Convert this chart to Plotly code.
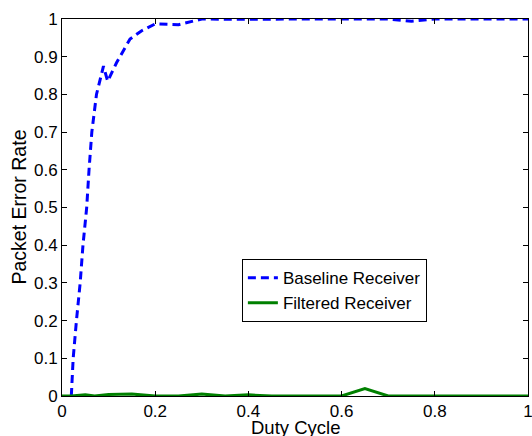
import plotly.graph_objects as go

duty_base = [0.02, 0.024, 0.031, 0.039, 0.045, 0.053, 0.058, 0.064, 0.074, 0.089, 0.098,
             0.117, 0.146, 0.171, 0.2, 0.25, 0.3, 0.4, 0.5, 0.6, 0.7, 0.75, 0.8, 0.9, 1.0]
per_base = [0.0, 0.1, 0.2, 0.3, 0.4, 0.5, 0.6, 0.7, 0.8, 0.875, 0.835,
            0.884, 0.947, 0.969, 0.987, 0.985, 1.0, 0.999, 1.0, 1.0, 1.0, 0.994, 1.0, 1.0, 1.0]

duty_filt = [0.0, 0.02, 0.05, 0.07, 0.1, 0.15, 0.2, 0.25, 0.3, 0.35, 0.4, 0.45, 0.5, 0.6, 0.65, 0.7, 0.8, 0.9, 1.0]
per_filt = [0.0, 0.0, 0.003, 0.0, 0.004, 0.005, 0.0, 0.0, 0.005, 0.0, 0.003, 0.0, 0.0, 0.0, 0.02, 0.0, 0.0, 0.0, 0.0]

x_ticks = [0, 0.2, 0.4, 0.6, 0.8, 1]
x_labels = ["0", "0.2", "0.4", "0.6", "0.8", "1"]
y_ticks = [i / 10 for i in range(11)]
y_labels = ["0", "0.1", "0.2", "0.3", "0.4", "0.5", "0.6", "0.7", "0.8", "0.9", "1"]
x_title = "Duty Cycle"
y_title = "Packet Error Rate"

FONT = "Liberation Sans, Arial"

fig = go.Figure()
fig.add_trace(go.Scatter(x=duty_base, y=per_base, mode="lines", name="Baseline Receiver",
                         line=dict(color="#0000ff", width=3, dash="8px,5px")))
fig.add_trace(go.Scatter(x=duty_filt, y=per_filt, mode="lines", name="Filtered Receiver",
                         line=dict(color="#008000", width=3)))

axis_common = dict(showline=True, linecolor="black", linewidth=1, mirror="ticks",
                   ticks="inside", ticklen=5, tickcolor="black", showgrid=False, zeroline=False,
                   ticklabeloverflow="allow", automargin=False,
                   tickfont=dict(family=FONT, size=17, color="black"))
fig.update_layout(
    width=532, height=436,
    margin=dict(l=62, r=4, t=19, b=40),
    plot_bgcolor="white", paper_bgcolor="white",
    xaxis=dict(range=[0, 1], tickvals=x_ticks, ticktext=x_labels, **axis_common),
    yaxis=dict(range=[0, 1], tickvals=y_ticks, ticktext=y_labels, **axis_common),
    legend=dict(x=0.386, y=0.363, xanchor="left", yanchor="top", bgcolor="white",
                bordercolor="black", borderwidth=1,
                font=dict(family=FONT, size=17, color="black"),
                tracegroupgap=0),
    showlegend=True,
)
fig.add_annotation(text=x_title, xref="paper", yref="paper", x=0.5, y=0,
                   xanchor="center", yanchor="middle", yshift=-31, showarrow=False,
                   borderpad=0,
                   font=dict(family=FONT, size=18.5, color="black"))
fig.add_annotation(text=y_title, xref="paper", yref="paper", x=0, y=0.5,
                   xanchor="center", yanchor="middle", xshift=-44, textangle=-90, showarrow=False,
                   font=dict(family=FONT, size=19.5, color="black"))
fig.write_html("out.html")
